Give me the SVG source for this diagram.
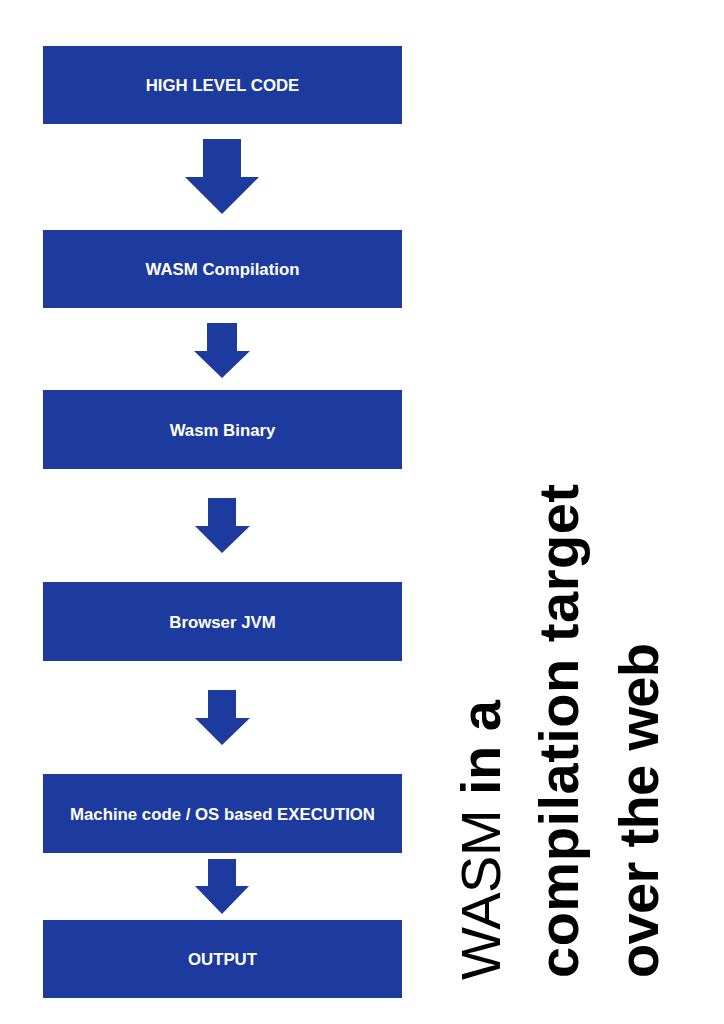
<svg xmlns="http://www.w3.org/2000/svg" width="724" height="1024" viewBox="0 0 724 1024">
<style>
.box{fill:#1d3b9e}
.lbl{font-family:"Liberation Sans",Arial,sans-serif;font-weight:bold;font-size:16.8px;fill:#fff;text-anchor:middle}
.arr{fill:#1d3b9e}
.title{font-family:"Liberation Sans",Arial,sans-serif;font-size:56px;fill:#000}
.b{font-weight:bold}
</style>
<rect width="724" height="1024" fill="#fff"/>
<g id="n1"><rect class="box" x="43" y="46" width="359" height="78"/><text class="lbl" x="222.5" y="91">HIGH LEVEL CODE</text></g>
<g id="n2"><rect class="box" x="43" y="230" width="359" height="78"/><text class="lbl" x="222.5" y="275">WASM Compilation</text></g>
<g id="n3"><rect class="box" x="43" y="390" width="359" height="79"/><text class="lbl" x="222.5" y="435.5">Wasm Binary</text></g>
<g id="n4"><rect class="box" x="43" y="582" width="359" height="79"/><text class="lbl" x="222.5" y="627.5">Browser JVM</text></g>
<g id="n5"><rect class="box" x="43" y="774" width="359" height="79"/><text class="lbl" x="222.5" y="819.5">Machine code / OS based EXECUTION</text></g>
<g id="n6"><rect class="box" x="43" y="920" width="359" height="78"/><text class="lbl" x="222.5" y="965">OUTPUT</text></g>
<g id="connectors">
<polygon class="arr" points="203,139 241,139 241,177 259,177 222,214 185,177 203,177"/>
<polygon class="arr" points="207,323 237,323 237,351 250,351 222,378 194,351 207,351"/>
<polygon class="arr" points="208,498 236,498 236,526 250,526 222,553 195,526 208,526"/>
<polygon class="arr" points="208,690 236,690 236,718 250,718 222,745 195,718 208,718"/>
<polygon class="arr" points="208,859 236,859 236,886 249,886 222,914 195,886 208,886"/>
</g>
<g id="title" transform="rotate(-90)">
<text class="title" x="-980" y="500" textLength="280">WASM <tspan class="b">in a</tspan></text>
<text class="title b" x="-978" y="578" textLength="494">compilation target</text>
<text class="title b" x="-978" y="658" textLength="335">over the web</text>
</g>
</svg>
